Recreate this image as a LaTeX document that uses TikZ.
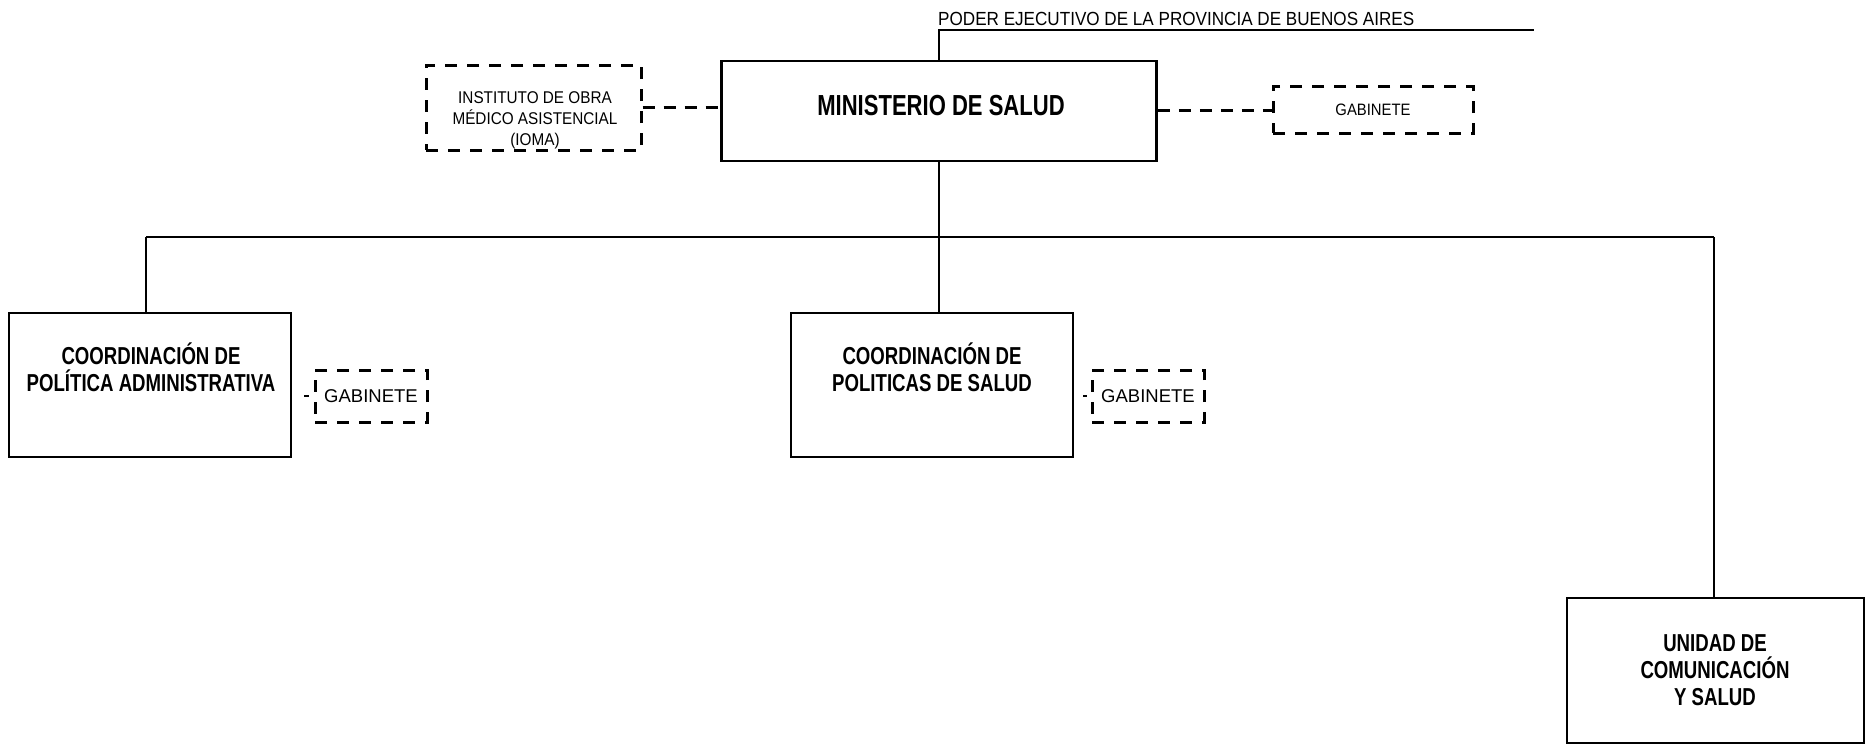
\documentclass[tikz,border=0pt]{standalone}
\usepackage{fontspec}
\setmainfont{Liberation Sans}
\newfontfamily\condbold[FakeStretch=0.76]{Liberation Sans}
\newfontfamily\condfont[FakeStretch=0.9]{Liberation Sans}
\usepackage{tikz}

\begin{document}
\begin{tikzpicture}[x=1pt, y=-1pt,
	caja/.style={draw, line width=2.8pt, inner sep=0pt},
	cajapunt/.style={draw, line width=3pt, dash pattern=on 12pt off 10pt, inner sep=0pt},
	linea/.style={line width=1.4pt},
	lineapunt/.style={line width=3pt, dash pattern=on 12pt off 9pt},
	titulo/.style={align=center, inner sep=0pt, font=\condbold\bfseries\fontsize{24.5}{27}\selectfont},
	gabtxt/.style={font=\fontsize{18.5}{20}\selectfont}]
					\useasboundingbox (0,0) rectangle (1865,745);
					\node[caja, minimum width=435pt, minimum height=100pt] (min) at (939,111) {};
					\node[titulo, font=\condbold\bfseries\fontsize{29}{31}\selectfont] (min-t) at (941,105.5) {MINISTERIO DE SALUD};
					\node[cajapunt, minimum width=215pt, minimum height=85pt] (ioma) at (533.5,107.5) {};
					\node[align=center, inner sep=0pt, font=\condfont\fontsize{17}{21}\selectfont] (ioma-t) at (535,120) {INSTITUTO DE OBRA\\MÉDICO ASISTENCIAL\\(IOMA)};
					\node[cajapunt, minimum width=200pt, minimum height=47pt, font=\condfont\fontsize{16.5}{18}\selectfont] (gab) at (1373,109.5) {GABINETE};
					\coordinate (pe) at (939,30);
					\coordinate (pe-fin) at (1534,30);
					\node[anchor=base west, inner sep=0pt, font=\condfont\fontsize{19}{21}\selectfont] (pe-t) at (938,25) {PODER EJECUTIVO DE LA PROVINCIA DE BUENOS AIRES};
					\draw[linea] (min.north) -- (pe) -- (pe-fin);
					\draw[lineapunt] (ioma.east |- 0,107) -- (min.west |- 0,107);
					\draw[lineapunt] (min.east |- 0,110) -- (gab.west |- 0,110);

					\coordinate (bus-izq) at (146,237);
					\coordinate (bus) at (939,237);
					\coordinate (bus-der) at (1714,237);
					\draw[linea] (bus-izq) -- (bus-der);
					\draw[linea] (min.south) -- (bus);

					\node[caja, minimum width=282pt, minimum height=144pt] (cpa) at (150,385) {};
					\node[titulo] (cpa-t) at (151,367) {COORDINACIÓN DE\\POLÍTICA ADMINISTRATIVA};
					\node[caja, minimum width=282pt, minimum height=144pt] (cps) at (932,385) {};
					\node[titulo] (cps-t) at (932,367) {COORDINACIÓN DE\\POLITICAS DE SALUD};
					\node[caja, minimum width=297pt, minimum height=145pt] (ucs) at (1715.5,670.5) {};
					\node[titulo] (ucs-t) at (1715,670) {UNIDAD DE\\COMUNICACIÓN\\Y SALUD};
					\draw[linea] (bus-izq) -- (bus-izq |- cpa.north);
					\draw[linea] (bus) -- (bus |- cps.north);
					\draw[linea] (bus-der) -- (bus-der |- ucs.north);

					\node[cajapunt, minimum width=112pt, minimum height=52pt, gabtxt] (gab-a) at (371,396) {GABINETE};
					\node[cajapunt, minimum width=112pt, minimum height=52pt, gabtxt] (gab-b) at (1148,396) {GABINETE};
					\draw[linea, shorten <=12pt, shorten >=5pt] (gab-a.west -| cpa.east) -- (gab-a.west);
					\draw[linea, shorten <=9pt, shorten >=4pt] (gab-b.west -| cps.east) -- (gab-b.west);
				\end{tikzpicture}
\end{document}
